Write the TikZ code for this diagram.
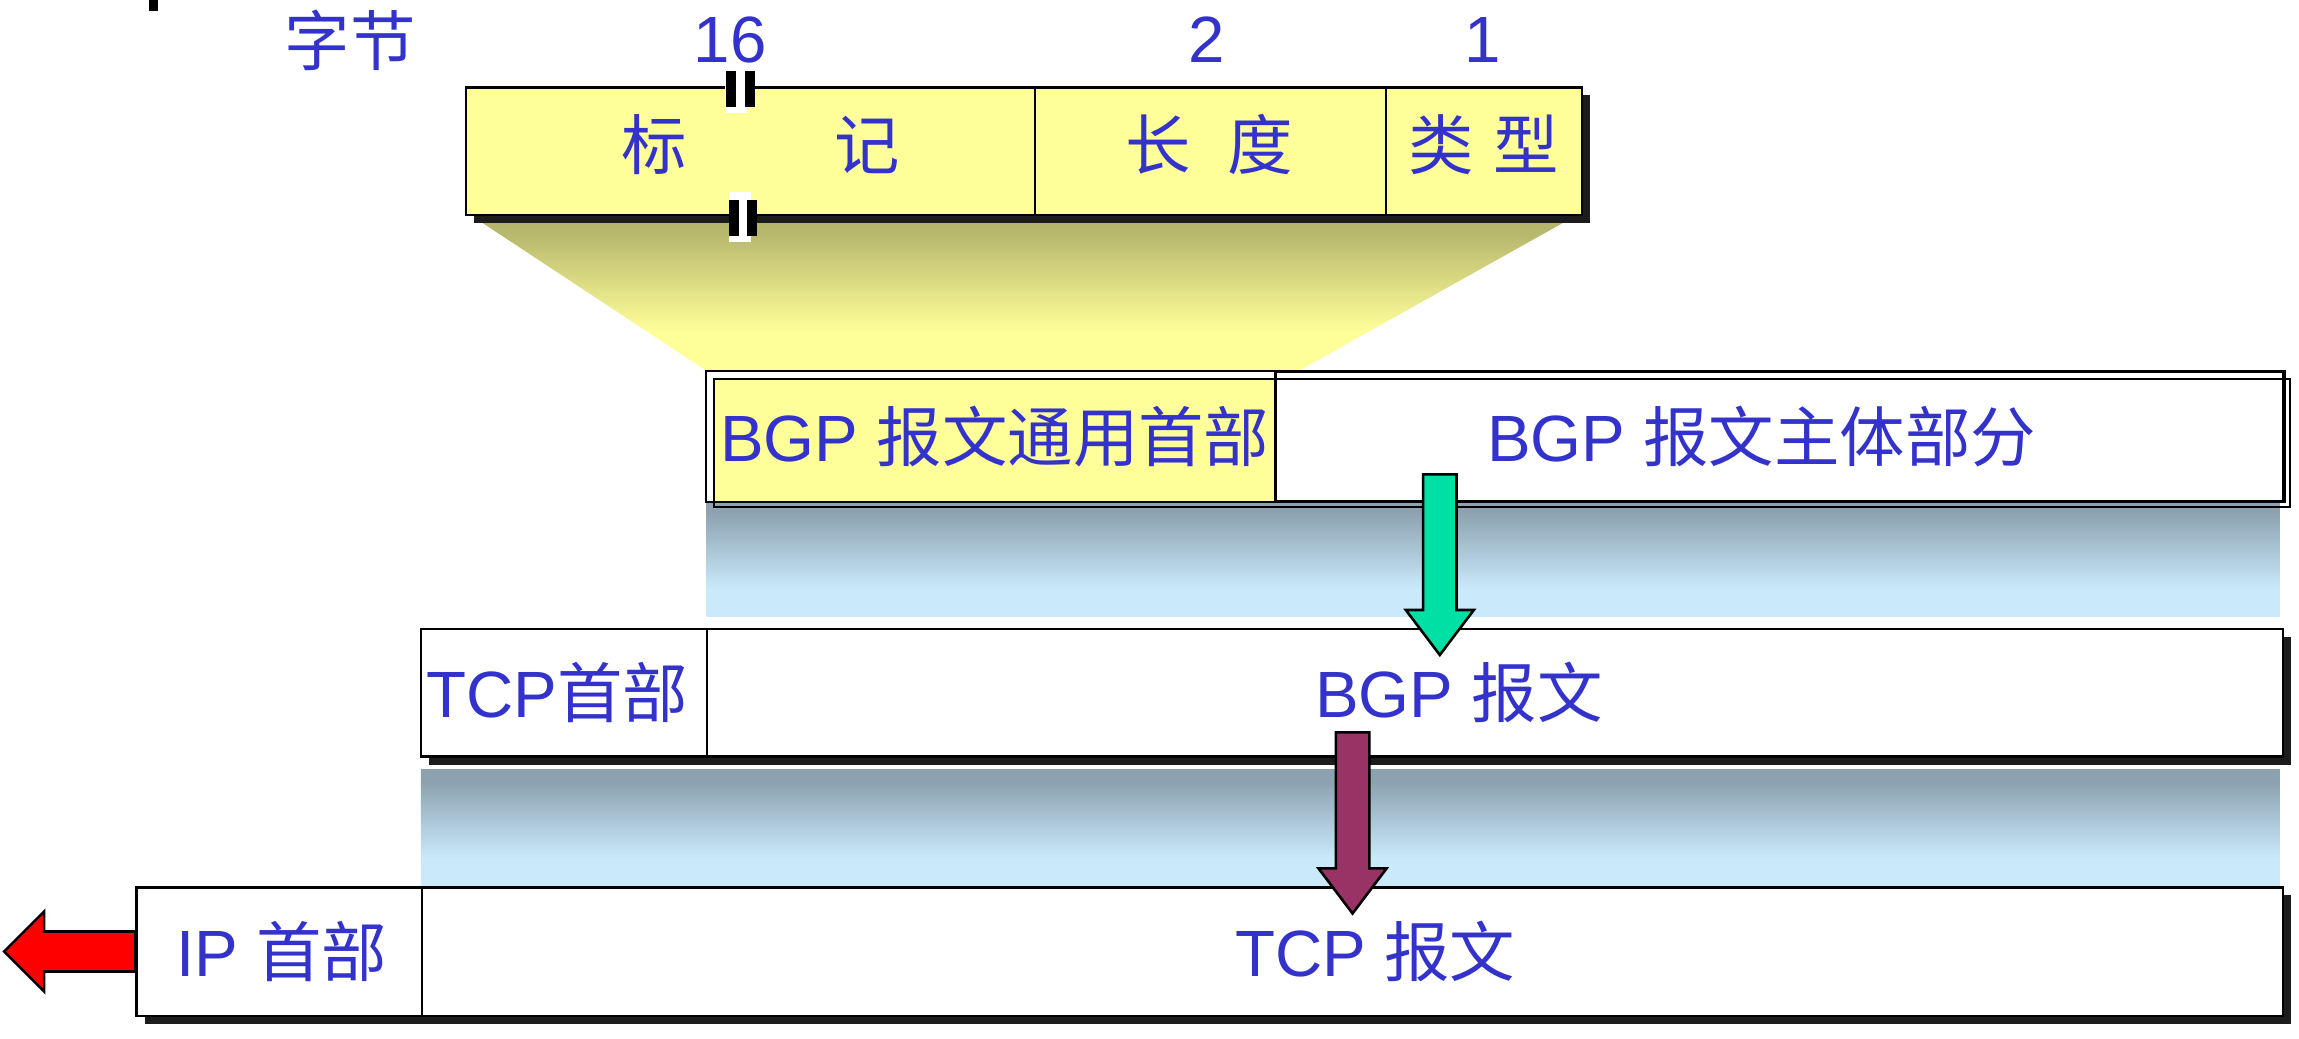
\documentclass[tikz,border=0pt]{standalone}
\usepackage{fontspec}
\setmainfont{Liberation Sans}
\newfontfamily\cjk{Noto Sans CJK SC}
\usetikzlibrary{fit,shadows}

\definecolor{fieldyellow}{RGB}{255,255,153}
\definecolor{olivetop}{RGB}{181,181,108}
\definecolor{bandtop}{RGB}{140,162,176}
\definecolor{bandbottom}{RGB}{202,234,252}
\definecolor{labelblue}{RGB}{51,51,204}
\definecolor{shadowgray}{RGB}{28,28,28}
\definecolor{arrowgreen}{RGB}{0,224,164}
\definecolor{arrowpurple}{RGB}{153,51,102}
\definecolor{arrowred}{RGB}{255,0,0}

\pgfdeclareverticalshading{trapfade}{100bp}{color(0bp)=(fieldyellow); color(38bp)=(fieldyellow); color(72bp)=(olivetop); color(100bp)=(olivetop)}
\pgfdeclareverticalshading{bandfade}{100bp}{color(0bp)=(bandbottom); color(37bp)=(bandbottom); color(70bp)=(bandtop); color(100bp)=(bandtop)}

\tikzset{
  box/.style       = {draw, line width=0.45pt, inner sep=0pt},
  row/.style       = {box, fill=white,
                      general shadow={fill=shadowgray, shadow xshift=0.55mm, shadow yshift=-0.55mm}},
  headfield/.style = {box, fill=fieldyellow},
  lbl/.style       = {inner sep=0pt, text=labelblue, font=\fontsize{12.7}{15}\selectfont},
  band/.style      = {shading=bandfade},
  gap/.style       = {fill=white},
  breakbar/.style  = {fill=black},
  blockarrow/.style = {draw, line width=0.5pt, line join=miter}
}

\begin{document}
\begin{tikzpicture}[x=0.1mm, y=-0.1mm]
\useasboundingbox (0,0) rectangle (1568,708);
\fill (101.6,0) rectangle (107.5,7.3);

% header of the BGP message
\shade[shading=trapfade] (326,150) -- (1069.6,150) -- (885.6,253) -- (482,253) -- cycle;
\node [lbl] (bytes) at (239,27.3) {\cjk 字节};
\node [lbl] (n16) at (498,27.3) {16};
\node [lbl] (n2) at (823,27.3) {2};
\node [lbl] (n1) at (1011,27.3) {1};
\node [row, fit={(318,59.6) (1078.8,146.6)}] (hdr) {};
\node [headfield, fit={(318,59.6) (706,146.6)}] (marker) {};
\node [headfield, fit={(706,59.6) (945.2,146.6)}] (length) {};
\node [headfield, fit={(945.2,59.6) (1078.8,146.6)}] (type) {};
\node [lbl] (markerlbl) at (519,98.5) {\cjk 标\hspace{10.1mm}记};
\node [lbl] (lengthlbl) at (824.6,98.5) {\cjk 长\hspace{2.5mm}度};
\node [lbl] (typelbl) at (1012,98.5) {\cjk 类\hspace{1.3mm}型};
\fill [gap] (494.5,48.2) rectangle (509.6,76.9);
\fill [breakbar] (495.1,48.2) rectangle (501.8,72.8);
\fill [breakbar] (507.8,48.2) rectangle (514.6,72.8);
\fill [gap] (497,130.7) rectangle (512,164.8);
\fill [breakbar] (497.5,136.4) rectangle (504.2,161);
\fill [breakbar] (509.7,136.4) rectangle (516.4,161);

% BGP message
\shade [band] (482,341.5) rectangle (1555,420.6);
\node [inner sep=0pt, fill=white, fit={(482,253.5) (1557.3,341.5)}] (bgp) {};
\node [inner sep=0pt, fill=fieldyellow, fit={(486.8,258.5) (870,341.5)}] (bgphead) {};
\node [box, fit={(486.8,258.5) (1561.9,345.6)}] (bgpframe) {};
\draw [line width=0.45pt] (bgp.north west) rectangle (bgp.south east);
\node [box, fit={(870,253.5) (1557.3,341.5)}] (bgpbody) {};
\node [lbl] (bgpheadlbl) at (678.5,298) {BGP {\cjk 报文通用首部}};
\node [lbl] (bgpbodylbl) at (1201.5,298) {BGP {\cjk 报文主体部分}};

% TCP segment
\shade [band] (287,525) rectangle (1555,605);
\node [row, fit={(287,429.2) (1557,516)}] (tcp) {};
\node [box, fit={(287,429.2) (482,516)}] (tcphead) {};
\node [lbl] (tcpheadlbl) at (380,472.6) {TCP{\cjk 首部}};
\node [lbl] (tcpdatalbl) at (995,472.6) {BGP {\cjk 报文}};
\coordinate (gtop) at (982,323.5);
\draw [blockarrow, fill=arrowgreen] (gtop) ++(-11.4,0) -- ++(22.8,0) -- ++(0,92.5) -- ++(11.8,0)
      -- ++(-23.2,30.7) -- ++(-23.2,-30.7) -- ++(11.8,0) -- cycle;

% IP datagram
\node [row, fit={(93.2,605.2) (1557,692.7)}] (ip) {};
\node [box, fit={(93.2,605.2) (287.6,692.7)}] (iphead) {};
\node [lbl] (ipheadlbl) at (192,649) {IP {\cjk 首部}};
\node [lbl] (ipdatalbl) at (938,649) {TCP {\cjk 报文}};
\draw [blockarrow, fill=arrowred] (ip.west) ++(0,-13.65) -- ++(-62.3,0) -- ++(0,-13.65) -- ++(-27.3,27.3)
      -- ++(27.3,27.3) -- ++(0,-13.65) -- ++(62.3,0) -- cycle;
\coordinate (ptop) at (922.5,499.5);
\draw [blockarrow, fill=arrowpurple] (ptop) ++(-11.4,0) -- ++(22.8,0) -- ++(0,92.8) -- ++(11.8,0)
      -- ++(-23.2,30.7) -- ++(-23.2,-30.7) -- ++(11.8,0) -- cycle;
\end{tikzpicture}
\end{document}
